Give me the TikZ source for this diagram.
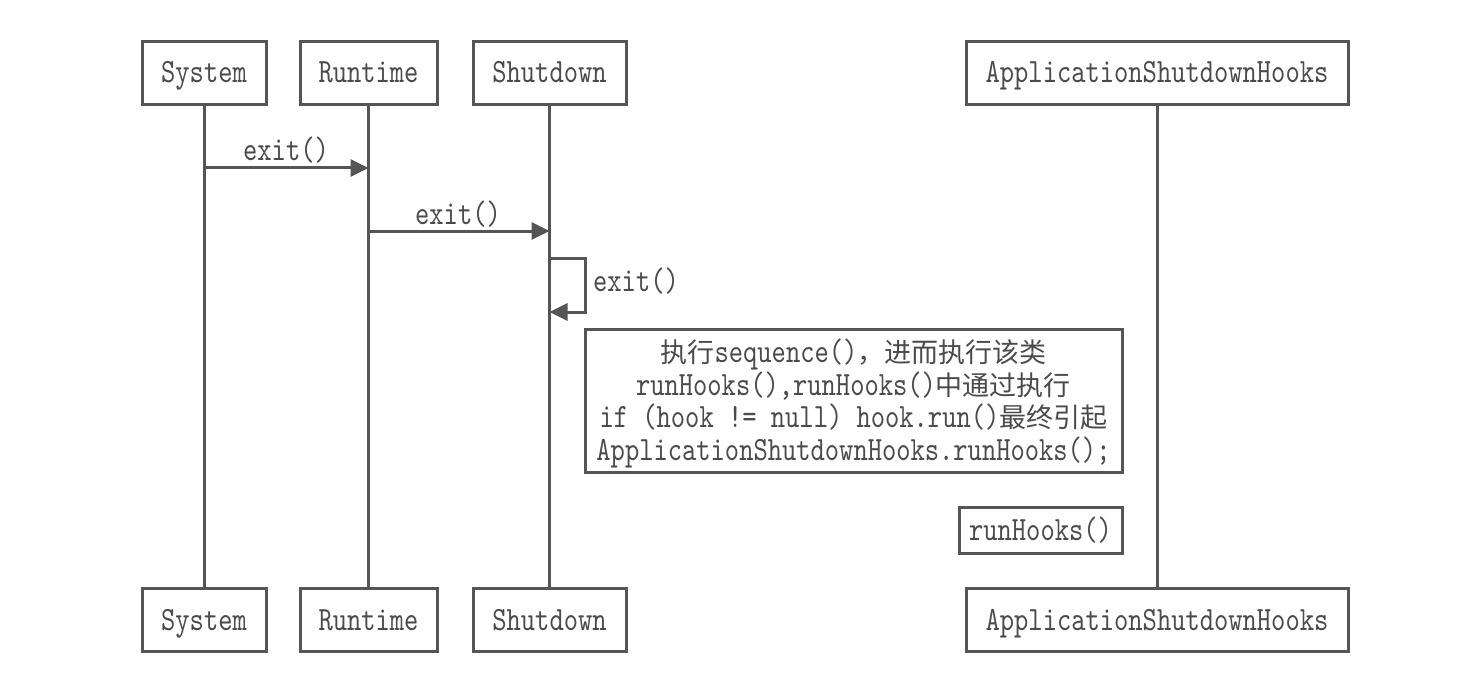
\documentclass[tikz,border=0pt]{standalone}
\usepackage{fontspec}
\usetikzlibrary{arrows.meta}
\newfontfamily\monof{lmmono10-regular}[Extension=.otf, FakeStretch=0.8]
\newfontfamily\cjkf{Noto Sans CJK SC}
\newcommand\zh[1]{{\cjkf\fontsize{27}{32.5}\selectfont #1}}
\definecolor{ink}{RGB}{85,85,85}
\definecolor{txt}{RGB}{75,75,75}
\tikzset{
  base/.style={font=\monof\fontsize{34}{32.5}\selectfont, text=txt},
  oneline/.style={text height=25pt, text depth=5pt},
  actor/.style={base, oneline, draw=ink, line width=3pt, minimum height=63pt, inner sep=0pt, fill=white},
  life/.style={draw=ink, line width=3pt},
  msg/.style={draw=ink, line width=3pt, -{Triangle[length=18pt,width=17pt]}},
  note/.style={base, draw=ink, line width=3pt, align=center, inner sep=0pt, fill=white},
  notetext/.style={base, align=center, inner sep=0pt},
  lbl/.style={base, oneline, inner sep=0pt}
}
\begin{document}
\begin{tikzpicture}[x=1pt,y=-1pt]
\useasboundingbox (0,0) rectangle (1460,690);
% actors top
\node[actor, minimum width=124pt] (syst) at (204,73) {System};
\node[actor, minimum width=137pt] (runt) at (368.5,73) {Runtime};
\node[actor, minimum width=153pt] (shut) at (549.5,73) {Shutdown};
\node[actor, minimum width=382pt] (asht) at (1157,73) {ApplicationShutdownHooks};
% actors bottom
\node[actor, minimum width=124pt] (sysb) at (204,620) {System};
\node[actor, minimum width=137pt] (runb) at (368.5,620) {Runtime};
\node[actor, minimum width=153pt] (shub) at (549.5,620) {Shutdown};
\node[actor, minimum width=382pt] (ashb) at (1157,620) {ApplicationShutdownHooks};
% lifelines
\draw[life] (syst.south) -- (sysb.north);
\draw[life] (runt.south) -- (runb.north);
\draw[life] (shut.south) -- (shub.north);
\draw[life] (asht.south) -- (ashb.north);
% message points
\coordinate (m1a) at (syst.south |- 0,168);
\coordinate (m1b) at (runt.south |- 0,168);
\coordinate (m2a) at (runt.south |- 0,231);
\coordinate (m2b) at (shut.south |- 0,231);
\coordinate (s1) at (shut.south |- 0,258);
\coordinate (s2) at (585,258);
\coordinate (s3) at (585,312);
\coordinate (s4) at (shut.south |- 0,312);
\draw[msg] (m1a) -- (m1b);
\draw[msg] (m2a) -- (m2b);
\draw[msg] (s1) -- (s2) -- (s3) -- (s4);
\node[lbl] (l1) at (286,151) {exit()};
\node[lbl] (l2) at (458,214) {exit()};
\node[lbl] (l3) at (636,281) {exit()};
% note
\node[note, minimum width=537pt, minimum height=143pt] (nt) at (853.5,400.5) {};
\node[notetext] (ntt) at ([yshift=-3pt]nt.center)
 {\zh{执行}sequence()\zh{，进而执行该类}\\
  runHooks(),runHooks()\zh{中通过执行}\\
  if (hook != null) hook.run()\zh{最终引起}\\
  ApplicationShutdownHooks.runHooks();};
\node[note, oneline, minimum width=163pt, minimum height=46pt] (rh) at (1040.5,530) {runHooks()};
\end{tikzpicture}
\end{document}
